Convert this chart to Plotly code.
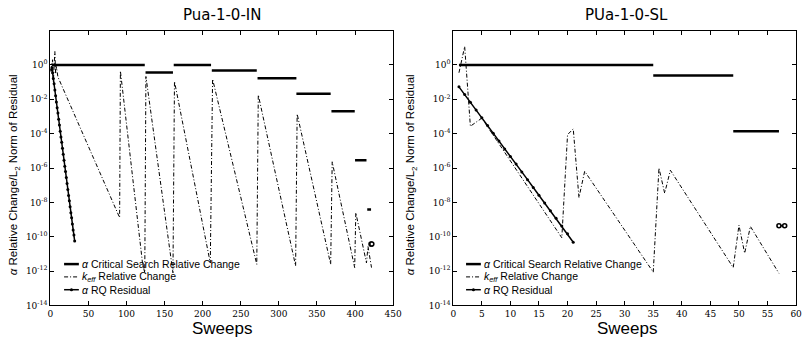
import plotly.graph_objects as go

W, H = 812, 343

# ---------------- data: left panel (Pua-1-0-IN) ----------------
L_cs_start = [2, 125, 162, 212, 272, 323, 369, 400, 416]
L_cs_end = [124, 161, 211, 271, 323, 368, 399.6, 415, 421]
L_cs_val = [1.0, 0.36, 1.0, 0.48, 0.165, 0.021, 0.002, 2.8e-6, 3.8e-9]

L_keff_x = [1, 3, 4, 6, 7, 8, 10, 91, 92, 121, 124, 125.5, 161, 163, 210, 213,
            271, 273, 322, 324, 368, 370, 399.5, 401, 415, 417, 421.6]
L_keff_y = [0.5, 2.0, 0.1, 6.0, 0.3, 0.8, 0.2, 1.3e-9, 0.45, 3e-12, 8e-13, 0.21,
            8e-13, 0.11, 3e-12, 0.15, 2.5e-12, 0.018, 2e-12, 1.4e-3, 2.5e-12,
            2.3e-6, 1.6e-12, 2.5e-9, 3e-12, 2.7e-11, 1.6e-12]

L_rq_x = list(range(1, 33))
L_rq_y = [0.5, 0.7, 0.35, 0.16, 0.08, 0.035, 0.016, 7e-3, 3.2e-3, 1.6e-3, 7e-4,
          3.2e-4, 1.4e-4, 6.3e-5, 3.2e-5, 1.4e-5, 6.3e-6, 2.8e-6, 1.26e-6, 6.3e-7,
          2.8e-7, 1.26e-7, 5.6e-8, 2.5e-8, 1.26e-8, 5.6e-9, 2.5e-9, 1.26e-9,
          5.6e-10, 2.5e-10, 1.26e-10, 5.6e-11]

L_end_x = [421, 422]
L_end_y = [3.8e-11, 3.8e-11]

# ---------------- data: right panel (PUa-1-0-SL) ----------------
R_cs_start = [1, 35, 49]
R_cs_end = [35, 49, 57]
R_cs_val = [1.0, 0.24, 1.4e-4]

R_keff_x = [1, 2, 3, 5, 19, 20, 21, 22, 23, 35, 36, 37, 38, 49, 50, 51, 52, 57]
R_keff_y = [0.35, 11.7, 2.7e-4, 8e-4, 8.7e-11, 8.7e-5, 1.9e-4, 1.9e-8, 6.5e-7,
            8.7e-13, 1e-6, 3.4e-8, 7.4e-7, 1.6e-12, 4.7e-10, 1.1e-11, 4e-10, 7.4e-13]

R_rq_x = list(range(1, 22))
R_rq_y = [5.3e-2, 1.9e-2, 6.7e-3, 2.4e-3, 8.4e-4, 3.0e-4, 1.05e-4, 3.7e-5, 1.3e-5,
          4.7e-6, 1.7e-6, 5.9e-7, 2.1e-7, 7.4e-8, 2.6e-8, 9.3e-9, 3.3e-9, 1.2e-9,
          4.2e-10, 1.5e-10, 4.8e-11]

R_end_x = [57, 58]
R_end_y = [4.4e-10, 4.4e-10]

titles = ["Pua-1-0-IN", "PUa-1-0-SL"]
ytick_exp = [-14, -12, -10, -8, -6, -4, -2, 0]
xticks_left = [0, 50, 100, 150, 200, 250, 300, 350, 400, 450]
xticks_right = [0, 5, 10, 15, 20, 25, 30, 35, 40, 45, 50, 55, 60]

names = ["<i>α</i> Critical Search Relative Change",
         "<i>k<sub>eff</sub></i> Relative Change",
         "<i>α</i> RQ Residual"]

CS_LINE = dict(color="black", width=2.5)
KEFF_LINE = dict(color="black", width=1, dash="4px,2px,1px,2px")
RQ_LINE = dict(color="black", width=1.5)


def segs(starts, ends, vals):
    xs, ys = [], []
    for s, e, v in zip(starts, ends, vals):
        xs += [s, e, None]
        ys += [v, v, None]
    return xs, ys


fig = go.Figure()

panels = [
    (L_cs_start, L_cs_end, L_cs_val, L_keff_x, L_keff_y, L_rq_x, L_rq_y, L_end_x, L_end_y, "x", "y"),
    (R_cs_start, R_cs_end, R_cs_val, R_keff_x, R_keff_y, R_rq_x, R_rq_y, R_end_x, R_end_y, "x2", "y2"),
]

for (cs_s, cs_e, cs_v, kx, ky, rx, ry, ex, ey, xa, ya) in panels:
    sx, sy = segs(cs_s, cs_e, cs_v)
    fig.add_trace(go.Scatter(x=sx, y=sy, mode="lines", name=names[0], showlegend=False,
                             line=CS_LINE, xaxis=xa, yaxis=ya))
    fig.add_trace(go.Scatter(x=kx, y=ky, mode="lines", name=names[1], showlegend=False,
                             line=KEFF_LINE, xaxis=xa, yaxis=ya))
    fig.add_trace(go.Scatter(x=rx, y=ry, mode="lines+markers", name=names[2], showlegend=False,
                             line=RQ_LINE, marker=dict(color="black", size=3, symbol="circle"),
                             xaxis=xa, yaxis=ya))
    fig.add_trace(go.Scatter(x=ex, y=ey, mode="lines+markers", showlegend=False,
                             line=dict(color="black", width=1.5),
                             marker=dict(color="white", size=4, symbol="circle",
                                         line=dict(color="black", width=1.6)),
                             xaxis=xa, yaxis=ya))


def px_x(p):
    return p / W


def px_y(p):
    return 1 - p / H


tickfont = dict(family="DejaVu Serif", size=9, color="black")
axis_common = dict(showline=True, linecolor="black", linewidth=1, mirror="allticks",
                   ticks="inside", ticklen=4, tickcolor="black", showgrid=False,
                   zeroline=False, tickfont=tickfont)

ydom = [px_y(310), px_y(31)]
yvals = [10.0 ** e for e in ytick_exp]
ytext = ["10<sup>%d</sup>" % e for e in ytick_exp]

fig.update_layout(
    width=W, height=H, margin=dict(l=0, r=0, t=0, b=0),
    plot_bgcolor="white", paper_bgcolor="white", showlegend=False,
    font=dict(family="DejaVu Sans", color="black"),
    xaxis=dict(domain=[px_x(48), px_x(396)], range=[0, 450], tickvals=xticks_left,
               anchor="y", **axis_common),
    yaxis=dict(domain=ydom, type="log", range=[-14, 2], tickvals=yvals, ticktext=ytext,
               anchor="x", **axis_common),
    xaxis2=dict(domain=[px_x(457), px_x(805)], range=[0, 60], tickvals=xticks_right,
                anchor="y2", **axis_common),
    yaxis2=dict(domain=ydom, type="log", range=[-14, 2], tickvals=yvals, ticktext=ytext,
                anchor="x2", **axis_common),
)

ann = []
shapes = []
for cx, t in zip([222, 633], titles):
    ann.append(dict(text=t, x=px_x(cx), y=px_y(15), xref="paper", yref="paper",
                    showarrow=False, font=dict(size=15), xanchor="center", yanchor="middle"))
    ann.append(dict(text="Sweeps", x=px_x(cx), y=px_y(333), xref="paper", yref="paper",
                    showarrow=False, font=dict(size=17, family="Liberation Sans"),
                    xanchor="center", yanchor="middle"))
for lx in [12, 415]:
    ann.append(dict(text="<i>α</i> Relative Change/L<sub>2</sub> Norm of Residual",
                    x=px_x(lx), y=px_y(177), xref="paper", yref="paper", textangle=-90,
                    showarrow=False, font=dict(size=11.5, family="Liberation Sans"),
                    xanchor="center", yanchor="middle"))

# legend (key) for each panel: sample line + label
rows_y = [268, 281, 294]
line_styles = [CS_LINE, KEFF_LINE, RQ_LINE]
for x0, x1 in [(62, 77), (470, 485)]:
    for ry, name, ls in zip(rows_y, names, line_styles):
        shapes.append(dict(type="line", xref="paper", yref="paper",
                           x0=px_x(x0), x1=px_x(x1), y0=px_y(ry), y1=px_y(ry), line=ls))
        ann.append(dict(text=name, x=px_x(x1 + 1), y=px_y(ry), xref="paper", yref="paper",
                        showarrow=False, font=dict(size=10.5, family="Liberation Sans"),
                        xanchor="left", yanchor="middle"))
    cx = (x0 + x1) / 2
    shapes.append(dict(type="circle", xref="paper", yref="paper",
                       x0=px_x(cx - 1.6), x1=px_x(cx + 1.6),
                       y0=px_y(rows_y[2] + 1.6), y1=px_y(rows_y[2] - 1.6),
                       fillcolor="black", line=dict(color="black", width=0)))

fig.update_layout(annotations=ann, shapes=shapes)

fig.write_html("out.html")
